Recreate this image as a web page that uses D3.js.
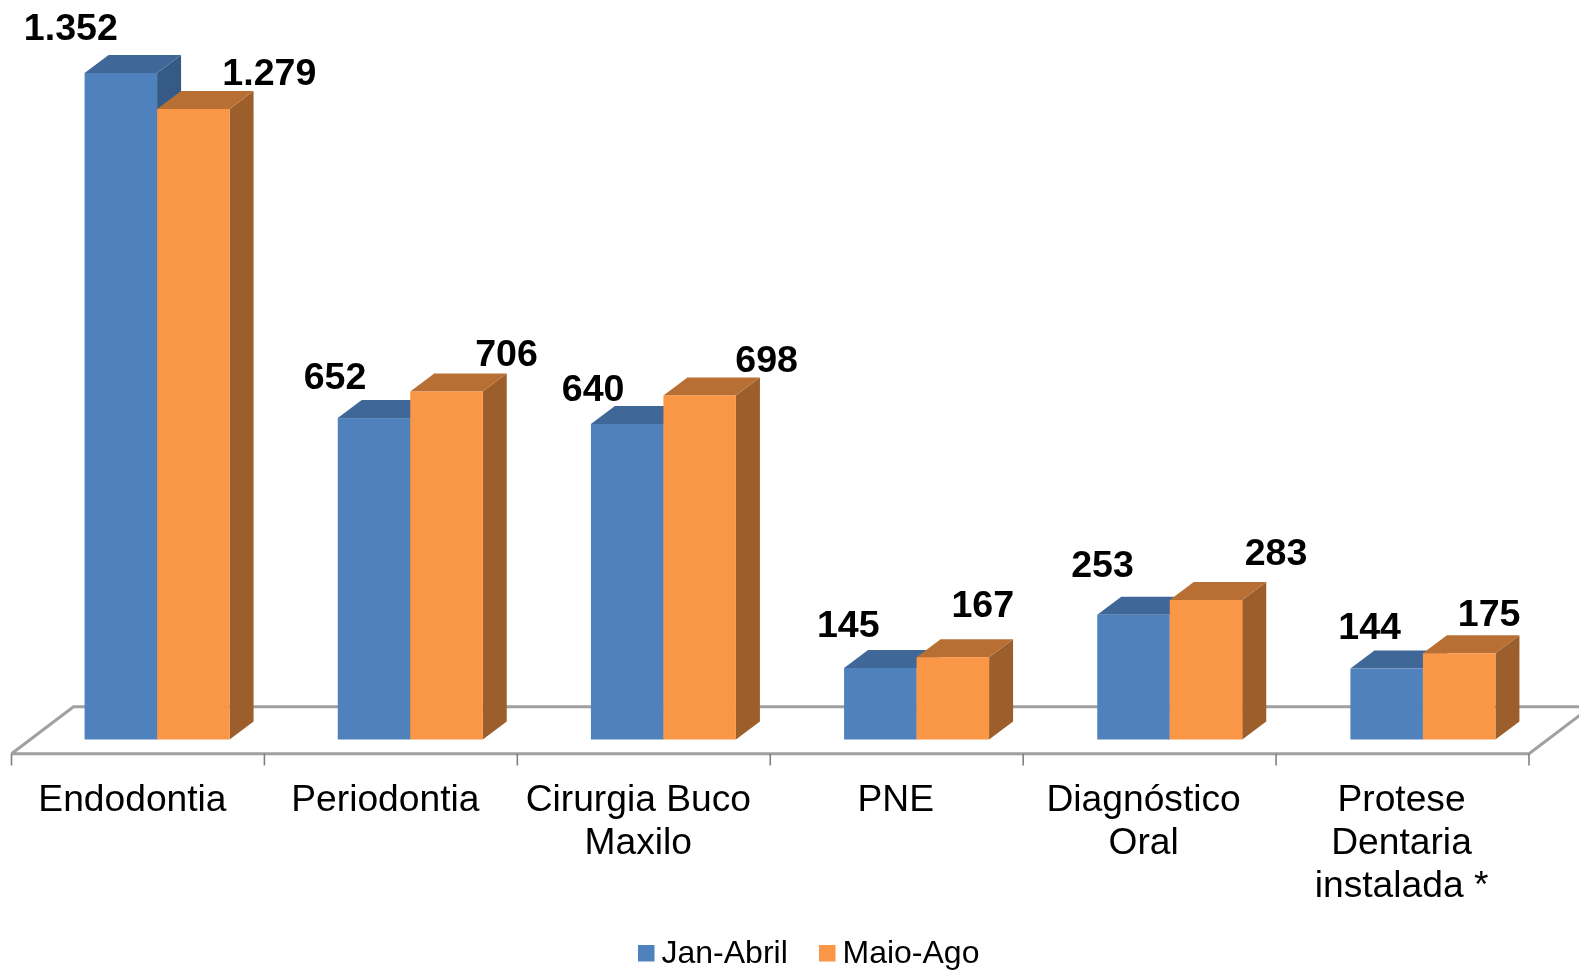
<!DOCTYPE html>
<html><head><meta charset="utf-8">
<script src="https://cdn.jsdelivr.net/npm/d3@7"></script>
<style>html,body{margin:0;padding:0;background:#fff}svg{display:block;filter:blur(0.45px)}text{font-family:"Liberation Sans",Arial,sans-serif;fill:#000}</style>
</head><body><svg id="c" width="1579" height="970"></svg>
<script>
const categories = [["Endodontia"],["Periodontia"],["Cirurgia Buco","Maxilo"],["PNE"],["Diagnóstico","Oral"],["Protese","Dentaria","instalada *"]];
const seriesNames = ["Jan-Abril","Maio-Ago"];
const janAbril = [1352,652,640,145,253,144];
const maioAgo = [1279,706,698,167,283,175];
const valueLabels = [["1.352","652","640","145","253","144"],["1.279","706","698","167","283","175"]];

// label placement nudges relative to the bar's centre / top
const labelDx = [[-50,-39,-34,-32,-31,-17],[76,60,67,30,70,30]];
const labelDy = [[-33.5,-29,-23,-31,-38,-30],[-24,-25,-23,-40,-35,-27]];
const catDx = [-5.5,-5.5,-5.5,-1,-6,-1];

const colors = [{front:"#4F81BD",top:"#3F6797",side:"#355A85"},{front:"#F99746",top:"#B86F33",side:"#9C5F2B"}];
const svg = d3.select("#c");
const x = d3.scaleBand().domain(d3.range(categories.length)).range([11.5,1529]);
const xBars = d3.scaleBand().domain(d3.range(categories.length)).range([11.5,1530.5]);
const barW = 72.5, depthX = 24, depthY = 18, groupShift = 19;
const y = d3.scaleLinear().domain([0,1352]).range([739.5,73]);
const floorFrontY = 753.7, floorBackY = 706.7, floorDx = 62;
const grey = "#A0A0A0";
const barLeft = (i,s) => xBars(i)+xBars.bandwidth()/2-barW+s*barW+groupShift;

const floor = svg.append("g").attr("fill","none").attr("stroke",grey).attr("stroke-width",3);
floor.append("path").attr("d",d3.line()([[x.range()[0],floorFrontY],[x.range()[0]+floorDx,floorBackY],[x.range()[1]+floorDx,floorBackY],[x.range()[1],floorFrontY],[x.range()[0],floorFrontY]]));
const ticks = svg.append("g").attr("stroke","#808080").attr("stroke-width",1.6);
d3.range(categories.length+1).forEach(i=>{
  const tx = x.range()[0]+i*x.step();
  ticks.append("line").attr("x1",tx).attr("x2",tx).attr("y1",floorFrontY).attr("y2",765.5);
});

const poly = pts => pts.map(p=>p.join(",")).join(" ");
[janAbril,maioAgo].forEach((vals,s)=>{
  const g = svg.append("g");
  vals.forEach((v,i)=>{
    const x0 = barLeft(i,s), x1 = x0+barW, yT = y(v), yB = y(0);
    g.append("polygon").attr("fill",colors[s].side).attr("points",poly([[x1,yT],[x1+depthX,yT-depthY],[x1+depthX,yB-depthY],[x1,yB]]));
    g.append("polygon").attr("fill",colors[s].top).attr("points",poly([[x0,yT],[x0+depthX,yT-depthY],[x1+depthX,yT-depthY],[x1,yT]]));
    g.append("rect").attr("fill",colors[s].front).attr("x",x0).attr("y",yT).attr("width",barW).attr("height",yB-yT);
  });
});

const lab = svg.append("g").attr("font-size",37.6).attr("font-weight","bold").attr("text-anchor","middle");
[janAbril,maioAgo].forEach((vals,s)=>vals.forEach((v,i)=>{
  const cx = barLeft(i,s)+barW/2;
  lab.append("text").attr("x",cx+labelDx[s][i]).attr("y",y(v)+labelDy[s][i]).text(valueLabels[s][i]);
}));

const cat = svg.append("g").attr("font-size",37.2).attr("text-anchor","middle");
categories.forEach((lines,i)=>lines.forEach((t,j)=>{
  cat.append("text").attr("x",x(i)+x.bandwidth()/2+catDx[i]).attr("y",811+j*43).text(t);
}));

const legendX = [638,819];
const leg = svg.append("g").attr("font-size",32);
seriesNames.forEach((n,i)=>{
  leg.append("rect").attr("x",legendX[i]).attr("y",945).attr("width",16.5).attr("height",16.5).attr("fill",colors[i].front);
  leg.append("text").attr("x",legendX[i]+23.5).attr("y",963).text(n);
});
</script></body></html>
